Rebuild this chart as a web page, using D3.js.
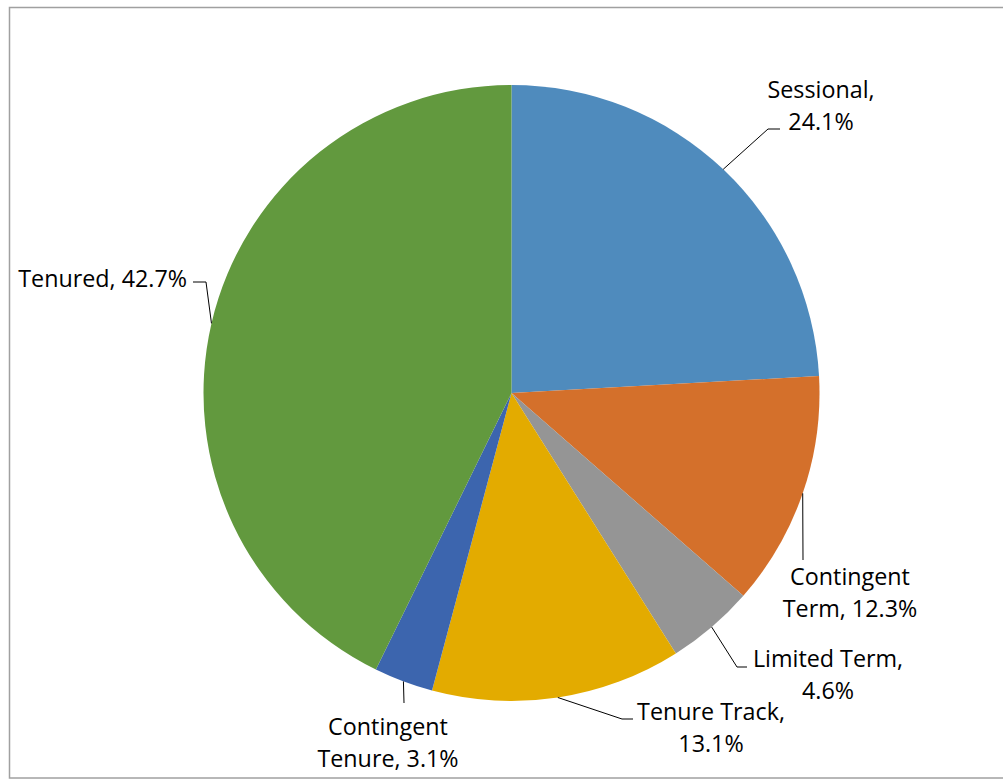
<!DOCTYPE html>
<html>
<head>
<meta charset="utf-8">
<script src="https://cdn.jsdelivr.net/npm/d3@7"></script>
<style>
  html, body { margin: 0; padding: 0; background: #fff; }
  svg { display: block; }
  text { font-family: "Open Sans", "Liberation Sans", sans-serif; fill: #000; }
</style>
</head>
<body>
<svg id="chart" width="1003" height="780"></svg>
<script>
// ---- data ----
const categories = ["Sessional", "Contingent Term", "Limited Term", "Tenure Track", "Contingent Tenure", "Tenured"];
const values = [24.1, 12.3, 4.6, 13.1, 3.1, 42.7];
const labelLines = [
  ["Sessional,", "24.1%"],
  ["Contingent", "Term, 12.3%"],
  ["Limited Term,", "4.6%"],
  ["Tenure Track,", "13.1%"],
  ["Contingent", "Tenure, 3.1%"],
  ["Tenured, 42.7%"]
];
const colors = ["#4F8BBD", "#D4702B", "#959595", "#E3AB00", "#3C65AE", "#62993E"];

// ---- layout (label anchor + leader elbows) ----
const layout = [
  { x: 821, y: 98, anchor: "middle", leader: [[768, 129], [780, 129]] },
  { x: 850, y: 585, anchor: "middle", leader: [[803, 560]] },
  { x: 828, y: 667, anchor: "middle", leader: [[737, 667], [747, 667]] },
  { x: 711, y: 720, anchor: "middle", leader: [[622, 719], [633, 719]] },
  { x: 388, y: 735, anchor: "middle", leader: [[404, 703]] },
  { x: 187, y: 287, anchor: "end", leader: [[206, 282], [193, 282]] }
];

const svg = d3.select("#chart");
const cx = 511.5, cy = 393, R = 308;
const lineH = 32;
const fontSize = 23.3;

// frame
svg.append("rect")
  .attr("x", 9.5).attr("y", 7.5)
  .attr("width", 1000).attr("height", 770.5)
  .attr("fill", "none").attr("stroke", "#A0A0A0").attr("stroke-width", 1.5);

const pie = d3.pie().value(d => d).sort(null);
const arcs = pie(values);
const arc = d3.arc().innerRadius(0).outerRadius(R);

const g = svg.append("g").attr("transform", `translate(${cx},${cy})`);
g.selectAll("path.slice")
  .data(arcs)
  .join("path")
  .attr("class", "slice")
  .attr("d", arc)
  .attr("fill", (d, i) => colors[i]);

// leader lines
arcs.forEach((d, i) => {
  const mid = (d.startAngle + d.endAngle) / 2;
  const sx = cx + R * Math.sin(mid);
  const sy = cy - R * Math.cos(mid);
  const pts = [[sx, sy]].concat(layout[i].leader);
  svg.append("path")
    .attr("d", d3.line()(pts))
    .attr("fill", "none")
    .attr("stroke", "#000")
    .attr("stroke-width", 1);
});

// labels
labelLines.forEach((lines, i) => {
  const L = layout[i];
  const t = svg.append("text")
    .attr("font-size", fontSize)
    .attr("text-anchor", L.anchor);
  lines.forEach((s, k) => {
    t.append("tspan").attr("x", L.x).attr("y", L.y + k * lineH).text(s);
  });
});
</script>
</body>
</html>
